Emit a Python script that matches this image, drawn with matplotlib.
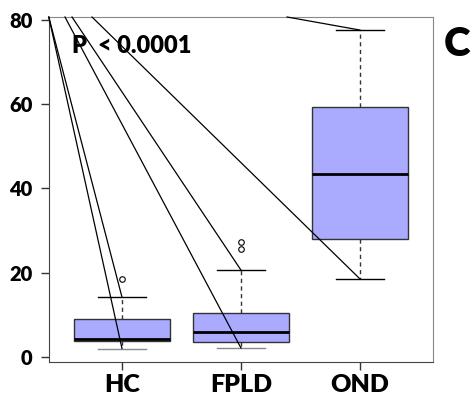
import matplotlib
matplotlib.use('Agg')
import matplotlib.pyplot as plt

# Werte
gruppen = ['HC', 'FPLD', 'OND']
unten = [2.0, 2.1, 18.5]        # unteres Whisker-Ende
q1 = [3.9, 3.5, 28.0]
median = [4.15, 5.9, 43.5]
q3 = [9.0, 10.5, 59.4]
oben = [14.2, 20.6, 77.6]       # oberes Whisker-Ende
ausreisser = [[18.4], [25.6, 27.4], []]

# Schraege Linien im Bild: Startpunkt oben (x) -> Whisker-Ende
linien_start_x = [0.385, 0.385, 0.521, 0.580, 0.748, 2.387]
linien_ziel = [(0, 'unten'), (0, 'oben'), (1, 'unten'), (1, 'oben'), (2, 'unten'), (2, 'oben')]

plt.rcParams['font.family'] = ['Lato', 'DejaVu Sans']
plt.rcParams['font.weight'] = 'bold'

fig = plt.figure(figsize=(4.75, 4.01), dpi=100)
ax = fig.add_axes([0.1032, 0.0973, 0.8084, 0.8603])

stats = []
for i, name in enumerate(gruppen):
    stats.append({'label': name, 'whislo': unten[i], 'q1': q1[i], 'med': median[i],
                  'q3': q3[i], 'whishi': oben[i], 'fliers': ausreisser[i]})

teile = ax.bxp(stats, positions=[1, 2, 3], widths=0.8, capwidths=0.4, patch_artist=True,
               boxprops=dict(facecolor='#aaaaff', edgecolor='#333333', linewidth=1.0),
               medianprops=dict(color='black', linewidth=2.0),
               whiskerprops=dict(color='#333333', linewidth=1.0, linestyle=(0, (3, 2.5))),
               capprops=dict(color='black', linewidth=1.0),
               flierprops=dict(marker='o', markersize=4, markerfacecolor='none',
                               markeredgecolor='black', markeredgewidth=0.8))

# untere Kappen bei HC und FPLD grau
teile['caps'][0].set_color('#888888')
teile['caps'][2].set_color('#888888')

ax.set_xlim(0.387, 3.613)
ax.set_ylim(-1.2, 80.7)
top = ax.get_ylim()[1]

for sx, (gi, art) in zip(linien_start_x, linien_ziel):
    ziel_y = unten[gi] if art == 'unten' else oben[gi]
    ax.plot([sx, gi + 1], [top, ziel_y], color='black', linewidth=0.9, zorder=5, clip_on=False)

ax.set_yticks([0, 20, 40, 60, 80])
ax.set_xticks([1, 2, 3])
ax.set_xticklabels(gruppen)
ax.tick_params(axis='y', labelsize=14.5, length=6, width=1, pad=6, color='#333333')
ax.tick_params(axis='x', labelsize=18, length=6, width=1, pad=3, color='#333333')
for lab in ax.get_xticklabels() + ax.get_yticklabels():
    lab.set_fontweight('heavy')

for s in ['left', 'bottom']:
    ax.spines[s].set_color('#444444')
for s in ['top', 'right']:
    ax.spines[s].set_color('#888888')

ax.text(0.06, 0.915, 'P  < 0.0001', transform=ax.transAxes, fontsize=17, fontweight='heavy',
        va='center', ha='left')
fig.text(0.963, 0.89, 'C', fontsize=29, fontweight='heavy', ha='center', va='center')

fig.savefig('out.png', dpi=100)
